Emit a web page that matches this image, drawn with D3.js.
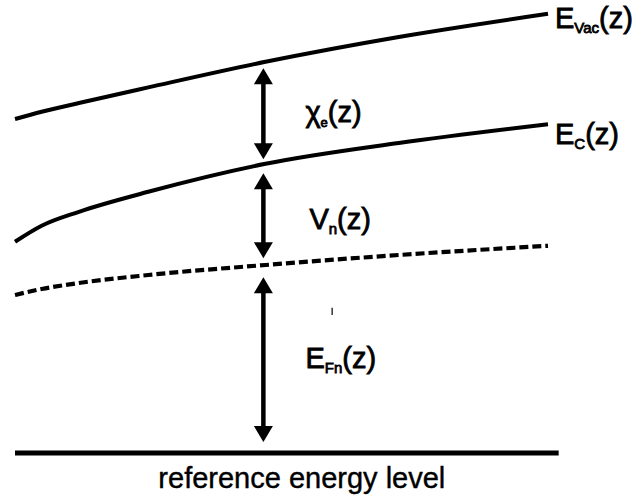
<!DOCTYPE html>
<html>
<head>
<meta charset="utf-8">
<script src="https://cdn.jsdelivr.net/npm/d3@7"></script>
<style>
  html, body { margin: 0; padding: 0; background: #fff; }
  svg { display: block; }
  text { font-family: "Liberation Sans", Arial, Helvetica, sans-serif; fill: #000; }
  text.lbl { stroke: #000; stroke-width: 0.8px; }
  text.ref { stroke: #000; stroke-width: 0.4px; }
</style>
</head>
<body>
<svg id="chart" width="641" height="501"></svg>
<script>
// Position along the structure (arbitrary units)
const zPoints = [0, 0.5, 1.2, 2.5, 4.7, 7.2, 10];

// Band energies (arbitrary units, reference level = 0)
const vacuumLevel    = [8.35, 8.53, 8.75, 9.14, 9.78, 10.4, 10.98];
const conductionBand = [5.28, 5.68, 6.03, 6.53, 7.23, 7.75, 8.22];
const quasiFermi     = [3.95, 4.1, 4.25, 4.45, 4.7, 4.95, 5.18];
const referenceLevel = 0;
const referenceExtent = [0, 10.2];

// Where the energy-difference arrows sit
const arrowZ = 4.66;

const svg = d3.select("#chart");

const x = d3.scaleLinear().domain([0, 10]).range([15, 548]);
const y = d3.scaleLinear().domain([0, 11]).range([453, 13]);

const line = d3.line()
  .x((d, i) => x(zPoints[i]))
  .y(d => y(d))
  .curve(d3.curveMonotoneX);

// Band curves
svg.append("path").datum(vacuumLevel)
  .attr("d", line).attr("fill", "none")
  .attr("stroke", "#000").attr("stroke-width", 4);

svg.append("path").datum(conductionBand)
  .attr("d", line).attr("fill", "none")
  .attr("stroke", "#000").attr("stroke-width", 4);

svg.append("path").datum(quasiFermi)
  .attr("d", line).attr("fill", "none")
  .attr("stroke", "#000").attr("stroke-width", 4.2)
  .attr("stroke-dasharray", "9,4");

// Reference energy level
svg.append("line")
  .attr("x1", x(referenceExtent[0])).attr("x2", x(referenceExtent[1]))
  .attr("y1", y(referenceLevel)).attr("y2", y(referenceLevel))
  .attr("stroke", "#000").attr("stroke-width", 5);

// value of a curve at the arrow position
function valueAt(series, z) {
  const i = d3.bisectRight(zPoints, z) - 1;
  const t = (z - zPoints[i]) / (zPoints[i + 1] - zPoints[i]);
  return series[i] + t * (series[i + 1] - series[i]);
}

const ax = x(arrowZ);
const headLen = 16, headHalf = 9.5;

function arrowHead(tipY, dir) {
  // dir = -1 pointing up, +1 pointing down
  const baseY = tipY - dir * headLen;
  return `M${ax},${tipY}L${ax - headHalf},${baseY}L${ax + headHalf},${baseY}Z`;
}

function doubleArrow(topVal, bottomVal, insetTop, insetBottom) {
  const y1 = y(topVal) + insetTop;
  const y2 = y(bottomVal) - insetBottom;
  const g = svg.append("g");
  g.append("line")
    .attr("x1", ax).attr("x2", ax)
    .attr("y1", y1 + headLen - 2).attr("y2", y2 - headLen + 2)
    .attr("stroke", "#000").attr("stroke-width", 4.5);
  g.append("path").attr("d", arrowHead(y1, -1)).attr("fill", "#000");
  g.append("path").attr("d", arrowHead(y2, 1)).attr("fill", "#000");
}

doubleArrow(valueAt(vacuumLevel, arrowZ), valueAt(conductionBand, arrowZ), 6, 5);
doubleArrow(valueAt(conductionBand, arrowZ), valueAt(quasiFermi, arrowZ), 9, 7);
doubleArrow(valueAt(quasiFermi, arrowZ), referenceLevel, 12, 11);

// Label with subscript
function label(xp, yp, main, sub, tail, size, subSize) {
  const t = svg.append("text")
    .attr("class", "lbl")
    .attr("x", xp).attr("y", yp)
    .style("font-size", size + "px");
  t.append("tspan").text(main);
  t.append("tspan").attr("dy", 5).style("font-size", subSize + "px").text(sub);
  t.append("tspan").attr("dy", -5).text(tail);
  return t;
}

label(x(10) + 7, 28, "E", "Vac", "(z)", 29, 15);
label(x(10) + 7, 144, "E", "C", "(z)", 29, 15);
label(ax + 42, 122, "\u03C7", "e", "(z)", 29, 13);
label(ax + 46, 229, "V", "n", "(z)", 29, 15);
label(ax + 42, 368, "E", "Fn", "(z)", 29, 15);

// small stray tick
svg.append("line")
  .attr("x1", x(5.95)).attr("x2", x(5.95))
  .attr("y1", y(3.63)).attr("y2", y(3.45))
  .attr("stroke", "#000").attr("stroke-width", 1.2);

svg.append("text")
  .attr("class", "ref")
  .attr("x", (x(referenceExtent[0]) + x(referenceExtent[1])) / 2 + 15)
  .attr("y", 488)
  .attr("text-anchor", "middle")
  .style("font-size", "29px")
  .text("reference energy level");
</script>
</body>
</html>
